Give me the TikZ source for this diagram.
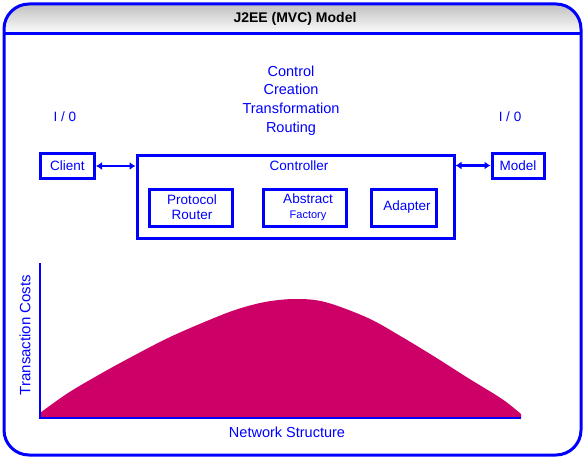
\documentclass[tikz,border=0pt]{standalone}
\usepackage{fontspec}
\setmainfont{Liberation Sans}
\usetikzlibrary{arrows.meta}
\definecolor{pblue}{RGB}{0,0,255}
\definecolor{hump}{RGB}{204,0,102}
\tikzset{
  box/.style={draw=pblue, line width=3pt, inner sep=0pt},
  lbl/.style={text=pblue, font=\fontsize{13.5}{16}\selectfont, align=center, inner sep=0pt},
  big/.style={text=pblue, font=\fontsize{14.5}{18.7}\selectfont, align=center, inner sep=0pt},
  link/.style={draw=pblue, line width=2.2pt, {Latex[length=6pt,width=8pt]}-{Latex[length=6pt,width=8pt]}},
}
\begin{document}
\begin{tikzpicture}[x=1pt,y=-1pt]
\useasboundingbox (0,0) rectangle (585,460);
% header shading
\begin{scope}
  \clip[rounded corners=25pt] (4,4) rectangle (581,455);
  \shade[top color=black!25, bottom color=white] (4,4) rectangle (581,34);
\end{scope}
\draw[pblue, line width=3pt, rounded corners=25pt] (4,4) rectangle (581,455);
\draw[pblue, line width=3pt] (4,34) -- (581,34);
\node[font=\bfseries\fontsize{14}{16}\selectfont, inner sep=0pt] (title) at (295,19) {J2EE (MVC) Model};

% top text
\node[big] (roles) at (291,100.5) {Control\\Creation\\Transformation\\Routing};
\node[lbl] (io1) at (65,117) {I / 0};
\node[lbl] (io2) at (510,117) {I / 0};

% boxes
\node[box, minimum width=54pt, minimum height=25pt] (client) at (67.5,166) {};
\node[lbl] (clientt) at (client.center) {Client};
\node[box, minimum width=317pt, minimum height=83pt] (ctrl) at (295.5,196.5) {};
\node[lbl] (ctrlt) at (299,166) {Controller};
\node[box, minimum width=83pt, minimum height=37pt] (pr) at (190.5,207.5) {};
\node[lbl, font=\fontsize{13.5}{15.5}\selectfont] (prt) at (192,207) {Protocol\\Router};
\node[box, minimum width=83pt, minimum height=37pt] (af) at (304.5,207.5) {};
\node[lbl, text=pblue] (aft) at (308,207) {{\fontsize{13.5}{15.5}\selectfont Abstract}\\[-1pt]{\fontsize{11}{13}\selectfont Factory}};
\node[box, minimum width=65pt, minimum height=37pt] (ad) at (403.5,207.5) {};
\node[lbl] (adt) at (407,207) {Adapter};
\node[box, minimum width=52pt, minimum height=25pt] (model) at (518,165.5) {};
\node[lbl] (modelt) at (model.center) {Model};

% connectors
\draw[link] (client.east) -- (client.east -| ctrl.west);
\draw[link] (ctrl.east |- model.west) -- (model.west);

% chart
\fill[hump] (40,418) -- plot[smooth, tension=0.55] coordinates {(40,413) (68,393) (102,373) (135,355) (168,338) (202,323) (235,310) (265,302) (295,299) (325,302) (368,318) (402,337) (435,357) (468,378) (502,399) (521,414)} -- (521,418) -- cycle;
\coordinate (ytop) at (40,263);
\coordinate (orig) at (40,418);
\coordinate (xend) at (521,418);
\draw[pblue, line width=2.8pt] (ytop) -- (orig) -- (xend);
\node[lbl, font=\fontsize{15}{18}\selectfont, rotate=90] (ylab) at (25,335) {Transaction Costs};
\node[lbl, font=\fontsize{14.5}{18}\selectfont] (xlab) at (287,432) {Network Structure};
\end{tikzpicture}
\end{document}
